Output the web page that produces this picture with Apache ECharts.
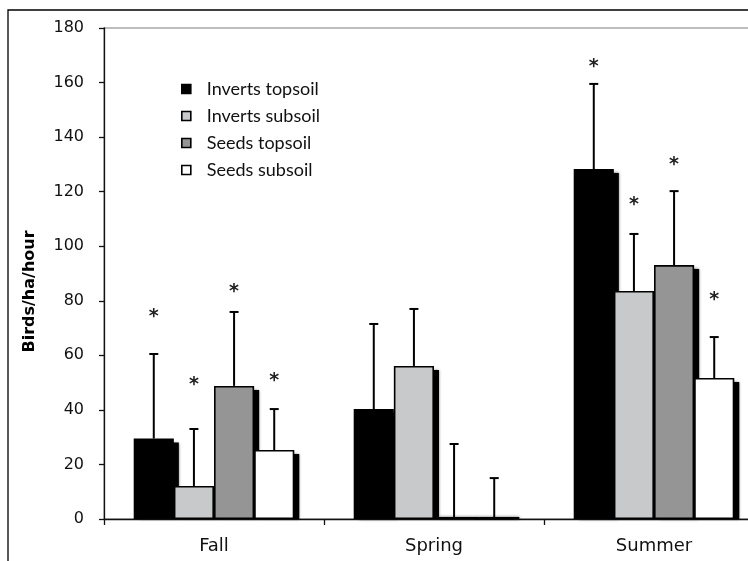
<!DOCTYPE html>
<html>
<head>
<meta charset="utf-8">
<script src="https://cdn.jsdelivr.net/npm/echarts@6/dist/echarts.min.js"></script>
<style>
html,body{margin:0;padding:0;background:#fff;overflow:hidden;width:748px;height:561px;}
#chart{width:772px;height:561px;}
</style>
</head>
<body>
<div id="chart"></div>
<script>
// ---- data ----
var categories = ['Fall', 'Spring', 'Summer'];
var seriesNames = ['Inverts topsoil', 'Inverts subsoil', 'Seeds topsoil', 'Seeds subsoil'];
var invertsTopsoil = [29.5, 40.3, 128.3];
var invertsSubsoil = [12.1, 56.1, 83.6];
var seedsTopsoil   = [48.8, 0.7, 93.1];
var seedsSubsoil   = [25.3, 0.3, 51.7];
// upper error (SE) for each bar
var invertsTopsoilErr = [31.0, 31.2, 31.2];
var invertsSubsoilErr = [20.9, 20.9, 20.9];
var seedsTopsoilErr   = [27.1, 26.8, 27.1];
var seedsSubsoilErr   = [15.0, 14.7, 15.0];
// asterisk positions (value units), null = none
var invertsTopsoilStar = [76, null, 167.5];
var invertsSubsoilStar = [51, null, 117];
var seedsTopsoilStar   = [85, null, 131.6];
var seedsSubsoilStar   = [52.4, null, 82];
var yTicks = [0, 20, 40, 60, 80, 100, 120, 140, 160, 180];

var values = [invertsTopsoil, invertsSubsoil, seedsTopsoil, seedsSubsoil];
var errs = [invertsTopsoilErr, invertsSubsoilErr, seedsTopsoilErr, seedsSubsoilErr];
var stars = [invertsTopsoilStar, invertsSubsoilStar, seedsTopsoilStar, seedsSubsoilStar];
var colors = ['#000000', '#c8c9cb', '#959596', '#ffffff'];
var GAP = 0.27;

function offsetX(api, g) {
  var cw = api.size([1, 0])[0];
  var bw = cw * (1 - GAP) / 4;
  return (g - 1.5) * bw;
}
function barW(api) {
  return api.size([1, 0])[0] * (1 - GAP) / 4;
}

var series = [];

// drop shadows behind all bars
values.forEach(function (vals, g) {
  series.push({
    type: 'custom',
    z: 1,
    silent: true,
    animation: false,
    data: vals.map(function (v, i) { return [i, v]; }),
    renderItem: function (params, api) {
      var cat = api.value(0), v = api.value(1);
      var bw = barW(api);
      var x = api.coord([cat, 0])[0] + offsetX(api, g);
      var yb = api.coord([cat, 0])[1];
      var yt = api.coord([cat, v])[1];
      var top = Math.min(yt + 4, yb - 2);
      return {
        type: 'rect',
        shape: { x: x - bw / 2 + 5, y: top, width: bw, height: yb - top },
        style: { fill: '#000', shadowBlur: 3, shadowColor: 'rgba(0,0,0,0.7)' }
      };
    }
  });
});

values.forEach(function (vals, g) {
  series.push({
    name: seriesNames[g],
    type: 'bar',
    data: vals,
    barGap: '0%',
    barCategoryGap: (GAP * 100) + '%',
    itemStyle: {
      color: colors[g],
      borderColor: '#000',
      borderWidth: 1.6
    },
    z: 2,
    animation: false
  });
});

values.forEach(function (vals, g) {
  var d = vals.map(function (v, i) { return [i, v, errs[g][i]]; });
  series.push({
    type: 'custom',
    z: 5,
    silent: true,
    animation: false,
    data: d,
    renderItem: function (params, api) {
      var cat = api.value(0), v = api.value(1), e = api.value(2);
      var x = api.coord([cat, 0])[0] + offsetX(api, g);
      var y0 = api.coord([cat, v])[1];
      var y1 = api.coord([cat, v + e])[1];
      return {
        type: 'group',
        children: [
          { type: 'line', shape: { x1: x, y1: y0, x2: x, y2: y1 }, style: { stroke: '#000', lineWidth: 2 } },
          { type: 'line', shape: { x1: x - 4.5, y1: y1, x2: x + 4.5, y2: y1 }, style: { stroke: '#000', lineWidth: 2 } }
        ]
      };
    }
  });
});

stars.forEach(function (st, g) {
  var d = [];
  st.forEach(function (s, i) { if (s !== null) d.push([i, s]); });
  series.push({
    type: 'custom',
    z: 6,
    silent: true,
    animation: false,
    data: d,
    renderItem: function (params, api) {
      var cat = api.value(0), v = api.value(1);
      var x = api.coord([cat, 0])[0] + offsetX(api, g);
      var y = api.coord([cat, v])[1];
      return {
        type: 'text',
        style: { text: '*', x: x, y: y + 5, align: 'center', verticalAlign: 'middle',
                 font: 'bold 19px "DejaVu Sans"', fill: '#222' }
      };
    }
  });
});

var chart = echarts.init(document.getElementById('chart'), null, { renderer: 'canvas' });
chart.setOption({
  animation: false,
  backgroundColor: '#fff',
  graphic: [{
    type: 'rect', z: 100, silent: true,
    shape: { x: 8, y: 10, width: 800, height: 600 },
    style: { fill: 'none', stroke: '#000', lineWidth: 1.3 }
  }],
  legend: {
    orient: 'vertical',
    left: 176,
    top: 74,
    itemWidth: 9,
    itemHeight: 9,
    itemGap: 7,
    icon: 'rect',
    data: seriesNames,
    itemStyle: { borderWidth: 1.6, borderColor: '#000' },
    textStyle: { fontFamily: 'Lato', fontSize: 18, color: '#111', lineHeight: 20, padding: [0, 0, 0, 11] }
  },
  grid: {
    left: 104, top: 28, width: 660, height: 491,
    show: true, borderColor: '#a8a8a8', borderWidth: 1.5, backgroundColor: 'transparent'
  },
  xAxis: {
    type: 'category',
    data: categories,
    axisLine: { lineStyle: { color: '#111', width: 1.3 } },
    axisTick: { show: true, length: 6, lineStyle: { color: '#111', width: 1.3 } },
    axisLabel: { fontFamily: 'DejaVu Sans', fontSize: 18, color: '#111', margin: 18 }
  },
  yAxis: {
    type: 'value',
    min: 0, max: 180, interval: 20,
    name: 'Birds/ha/hour',
    nameLocation: 'middle',
    nameRotate: 90,
    nameGap: 66,
    nameTextStyle: { fontFamily: 'DejaVu Sans', fontWeight: 'bold', fontSize: 16, color: '#000', padding: [0, 36, 0, 0] },
    axisLine: { show: true, lineStyle: { color: '#111', width: 1.3 } },
    axisTick: { show: true, length: 5, lineStyle: { color: '#111', width: 1.3 } },
    splitLine: { show: false },
    axisLabel: {
      fontFamily: 'DejaVu Sans', fontSize: 16, color: '#111', margin: 20,
      formatter: function (v) { return yTicks.indexOf(v) >= 0 ? String(v) : ''; }
    }
  },
  series: series
});
</script>
</body>
</html>
